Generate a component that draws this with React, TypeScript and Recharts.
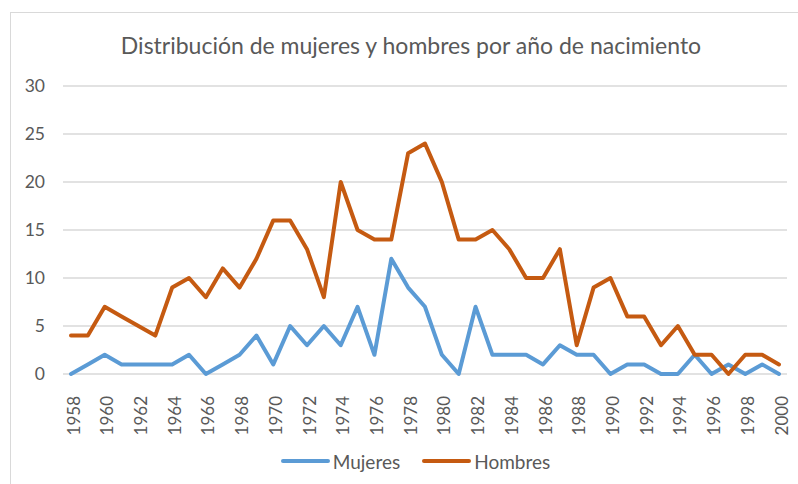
import React from 'react';
import { LineChart, Line, XAxis, YAxis, CartesianGrid, Legend } from 'recharts';

const years: string[] = [
  '1958','1959','1960','1961','1962','1963','1964','1965','1966','1967','1968','1969','1970','1971','1972','1973','1974','1975','1976','1977','1978','1979','1980','1981','1982','1983','1984','1985','1986','1987','1988','1989','1990','1991','1992','1993','1994','1995','1996','1997','1998','1999','2000'
];
const mujeres: number[] = [0,1,2,1,1,1,1,2,0,1,2,4,1,5,3,5,3,7,2,12,9,7,2,0,7,2,2,2,1,3,2,2,0,1,1,0,0,2,0,1,0,1,0];
const hombres: number[] = [4,4,7,6,5,4,9,10,8,11,9,12,16,16,13,8,20,15,14,14,23,24,20,14,14,15,13,10,10,13,3,9,10,6,6,3,5,2,2,0,2,2,1];
const yTicks: number[] = [0, 5, 10, 15, 20, 25, 30];
const title = 'Distribución de mujeres y hombres por año de nacimiento';

const data = years.map((y, i) => ({ year: y, Mujeres: mujeres[i], Hombres: hombres[i] }));

const FONT = 'Lato, "Open Sans", sans-serif';
const TEXT = '#595959';

const XTick = (props: any) => {
  const { x, y, payload } = props;
  return (
    <g transform={`translate(${x},${y})`}>
      <text transform="rotate(-90)" x={-14} y={0} dy={8.5} textAnchor="end" fill={TEXT} fontSize={17} fontFamily={FONT}>
        {payload.value}
      </text>
    </g>
  );
};

const LegendContent = () => {
  const items = [
    { name: 'Mujeres', color: '#5B9BD5' },
    { name: 'Hombres', color: '#C55A11' },
  ];
  return (
    <div style={{ display: 'flex', justifyContent: 'center', alignItems: 'center', height: 30, fontFamily: FONT, fontSize: 19, color: TEXT, paddingLeft: 44 }}>
      {items.map((it, i) => (
        <div key={it.name} style={{ display: 'flex', alignItems: 'center', marginLeft: i ? 22 : 0 }}>
          <svg width={49} height={8}>
            <line x1={2} y1={4} x2={47} y2={4} stroke={it.color} strokeWidth={4} strokeLinecap="round" />
          </svg>
          <span style={{ marginLeft: 3 }}>{it.name}</span>
        </div>
      ))}
    </div>
  );
};

export default function App() {
  return (
    <div style={{ position: 'absolute', left: 0, top: 0, width: 798, height: 484, overflow: 'hidden', background: '#fff' }}>
      <div style={{ position: 'absolute', left: 10, top: 12, width: 800, height: 480, border: '1px solid #d9d9d9', boxSizing: 'border-box' }} />
      <div style={{ position: 'absolute', left: 0, top: 29, width: 822, textAlign: 'center', fontFamily: FONT, fontSize: 23, color: TEXT, lineHeight: '32px' }}>
        {title}
      </div>
      <div style={{ position: 'absolute', left: 0, top: 0 }}>
        <LineChart width={798} height={484} data={data} margin={{ top: 86, right: 11, left: 0, bottom: 8 }}>
          <CartesianGrid vertical={false} stroke="#d9d9d9" strokeWidth={1.3} />
          <XAxis
            dataKey="year"
            interval={1}
            tick={<XTick />}
            tickLine={false}
            axisLine={false}
            height={72}
            padding={{ left: 8, right: 8 }}
          />
          <YAxis
            domain={[0, 30]}
            ticks={yTicks}
            width={63}
            tickLine={false}
            axisLine={false}
            tickSize={0}
            tickMargin={18}
            tick={{ fill: TEXT, fontSize: 17.5, fontFamily: FONT }}
          />
          <Legend verticalAlign="bottom" height={30} content={<LegendContent />} />
          <Line type="linear" dataKey="Mujeres" stroke="#5B9BD5" strokeWidth={4} dot={false} isAnimationActive={false} strokeLinejoin="round" strokeLinecap="round" />
          <Line type="linear" dataKey="Hombres" stroke="#C55A11" strokeWidth={4} dot={false} isAnimationActive={false} strokeLinejoin="round" strokeLinecap="round" />
        </LineChart>
      </div>
    </div>
  );
}
